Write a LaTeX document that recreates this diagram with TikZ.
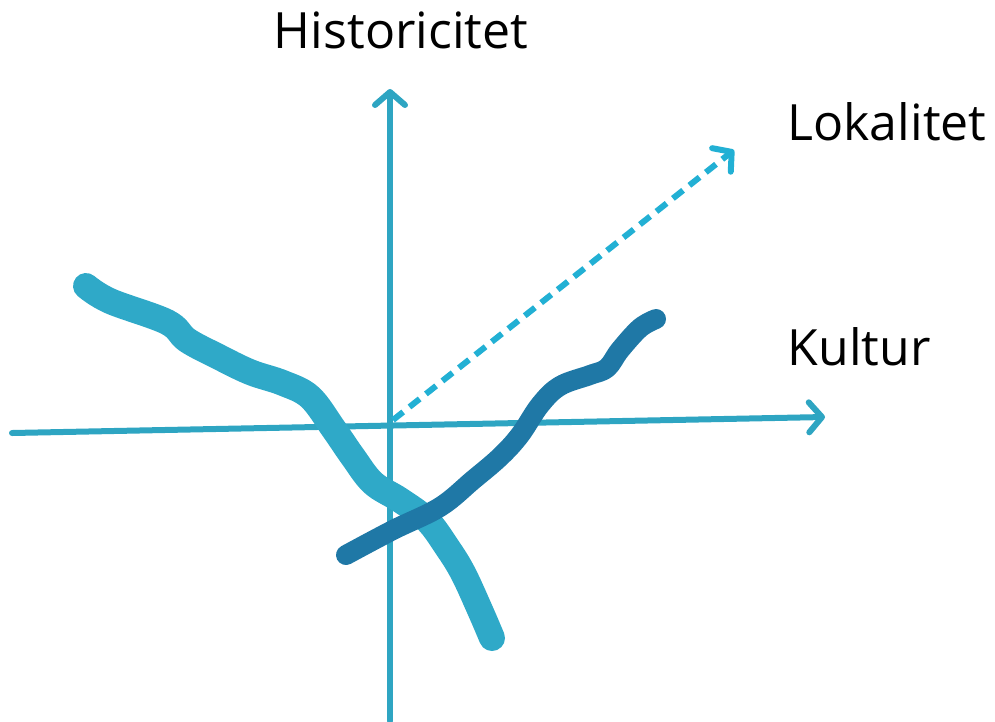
\documentclass[tikz,border=0pt]{standalone}
\usepackage{fontspec}
\setmainfont{Open Sans}
\usetikzlibrary{arrows.meta}
\definecolor{axisblue}{HTML}{2EA5C2}
\definecolor{lightcurve}{HTML}{2FA9C8}
\definecolor{darkcurve}{HTML}{1F78A6}
\definecolor{dashblue}{HTML}{22B0D4}
\begin{document}
\begin{tikzpicture}[x=1pt,y=-1pt,
		axis/.style={draw=axisblue,line width=6pt,line cap=round,-{Straight Barb[length=13pt,width=30pt,round]}},
		label/.style={font=\fontsize{50}{50}\selectfont,inner sep=0pt},
		curve/.style={line width=#1,line cap=round,line join=round}]
	\useasboundingbox (0,0) rectangle (995,721);
	\coordinate (hbottom) at (390,721);
	\coordinate (htop) at (390,89);
	\coordinate (kleft) at (12,433);
	\coordinate (kright) at (825,417);
	\coordinate (origin) at (393,420);
	\coordinate (ltop) at (734,150);
	\node[label] (hist) at (401,30) {Historicitet};
	\node[label] (lok) at (887,122) {Lokalitet};
	\node[label] (kult) at (859,347) {Kultur};
	\draw[axis] (hbottom) -- (htop);
	\draw[axis] (kleft) -- (kright);
	\draw[axis,draw=dashblue,dash pattern=on 13pt off 8pt,line cap=butt] (origin) -- (ltop);
	\draw[curve=26pt,lightcurve] plot[smooth,tension=0.6] coordinates {
		(86,286) (110,301) (167,322) (187,340) (217,356) (250,372) (283,383)
		(310,397) (333,428) (353,457) (373,483) (400,500) (427,520) (447,547)
		(463,573) (480,610) (492,638)};
	\draw[curve=20pt,darkcurve] plot[smooth,tension=0.6] coordinates {
		(346,555) (393,530) (440,507) (473,480) (500,457) (520,435) (540,405)
		(560,386) (590,375) (607,368) (620,350) (640,328) (656,319)};
\end{tikzpicture}
\end{document}
